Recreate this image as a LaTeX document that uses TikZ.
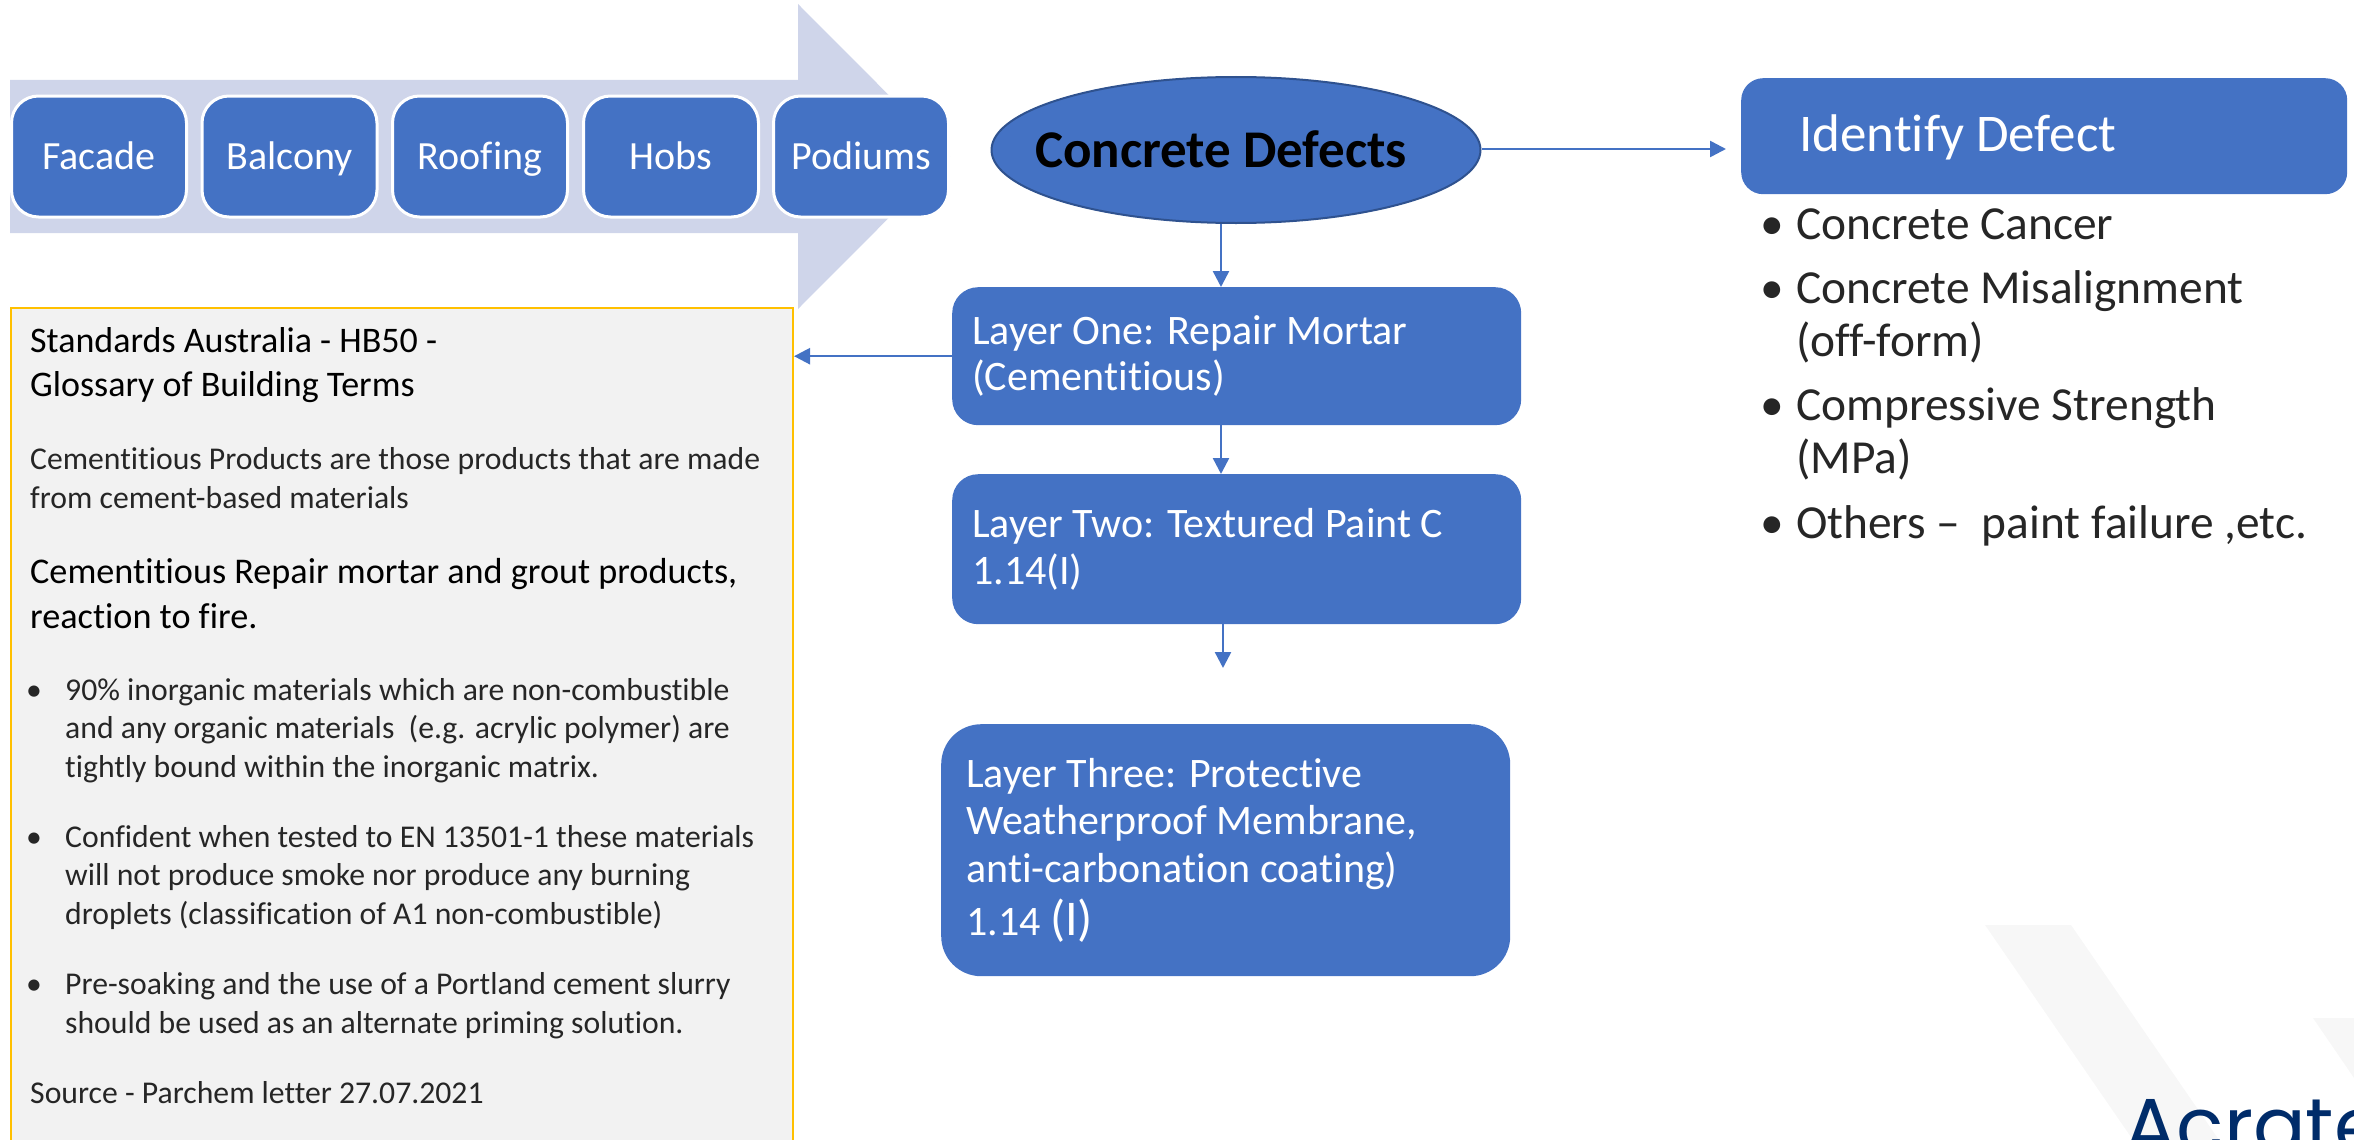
\documentclass[tikz,border=0pt]{standalone}
\usepackage{fontspec}
\setmainfont[Ligatures={NoCommon}]{Carlito}
\newfontfamily\logofont{Poppins}
\usetikzlibrary{arrows.meta,shapes.geometric,calc}
\definecolor{blueA}{HTML}{4472C4}
\definecolor{blueB}{HTML}{2F528F}
\definecolor{bandblue}{HTML}{CFD5EA}
\definecolor{panelgrey}{HTML}{F2F2F2}
\definecolor{panelgold}{HTML}{FFC000}
\definecolor{wmgrey}{HTML}{F7F7F7}
\definecolor{logonavy}{HTML}{002C6A}
\newcommand{\fs}[2]{\fontsize{#1}{#2}\selectfont}
\newcommand{\blk}[1]{\begin{tabular}[t]{@{}l@{}}#1\end{tabular}}
\newcommand{\bul}[3]{\begin{tabular}[t]{@{}p{#1pt}@{}l@{}}#2\end{tabular}}
\tikzset{
  topbox/.style={draw=white,line width=3pt,fill=blueA,rounded corners=27pt,minimum width=175pt,minimum height=121pt,inner sep=0pt,text=white,font=\fs{40}{46},text height=35pt,text depth=10pt},
  bluebox/.style={fill=blueA,inner sep=0pt,text=white,anchor=north west},
  txt/.style={anchor=base west,inner sep=0pt,text=black},
  ltxt/.style={anchor=base west,inner sep=0pt,text=black!85},
  wtxt/.style={anchor=base west,inner sep=0pt,text=white},
  conn/.style={draw=blueA,line width=2.5pt,-{Triangle[length=16pt,width=16pt]}},
}
\begin{document}
\begin{tikzpicture}[x=1pt,y=-1pt]
\useasboundingbox (0,0) rectangle (2354,1140);
% watermark
\fill[wmgrey] (1985,925) -- (2071,925) -- (2219,1140) -- (2133,1140) -- cycle;
\fill[wmgrey] (2313,1018) -- (2354,1018) -- (2354,1078) -- cycle;
\node[inner sep=0pt,anchor=base west,text=logonavy,font=\logofont\fs{78}{90}] (logo) at (2124,1153) {Acrate};
% chevron band
\fill[bandblue] (10,80) -- (798,80) -- (798,4) -- (950,156.5) -- (798,309) -- (798,233) -- (10,233) -- cycle;
\node[topbox] (facade) at (99,156.5) {Facade};
\node[topbox] (balcony) at (289.5,156.5) {Balcony};
\node[topbox] (roofing) at (480,156.5) {Roofing};
\node[topbox] (hobs) at (671,156.5) {Hobs};
\node[topbox] (podiums) at (861,156.5) {Podiums};
% ellipse
\node[ellipse,draw=blueB,line width=2pt,fill=blueA,minimum width=489pt,minimum height=146pt,inner sep=0pt] (defects) at (1236,150) {};
\node[txt,font=\fs{53}{60}\bfseries] (defectst) at (1035,167) {Concrete Defects};
% layers
\node[bluebox,rounded corners=26pt,minimum width=569pt,minimum height=138pt] (one) at (952,287) {};
\node[bluebox,rounded corners=26pt,minimum width=569pt,minimum height=150pt] (two) at (952,474) {};
\node[bluebox,rounded corners=40pt,minimum width=569pt,minimum height=252pt] (three) at (941,724) {};
\node[bluebox,rounded corners=22pt,minimum width=606pt,minimum height=116pt] (identify) at (1741,78) {};
\node[wtxt,font=\fs{42}{46}] (onet) at (972,344) {\blk{Layer One: Repair Mortar\\(Cementitious)}};
\node[wtxt,font=\fs{42}{47}] (twot) at (972,537) {\blk{Layer Two: Textured Paint C\\1.14(I)}};
\node[wtxt,font=\fs{42}{47.5}] (threet) at (966,787) {\blk{Layer Three: Protective\\Weatherproof Membrane,\\anti-carbonation coating)\\[2.5pt]1.14 {\fs{50}{47.5}(I)}}};
\node[wtxt,font=\fs{53}{60}] (idt) at (1799,151) {Identify Defect};
% right bullets
\node[ltxt,font=\fs{47.4}{53}] (b1) at (1760,239) {\bul{36}{•&Concrete Cancer}{}};
\node[ltxt,font=\fs{47.4}{53}] (b2) at (1760,303) {\bul{36}{•&Concrete Misalignment\\&(off-form)}{}};
\node[ltxt,font=\fs{47.4}{53}] (b3) at (1760,420) {\bul{36}{•&Compressive Strength\\&(MPa)}{}};
\node[ltxt,font=\fs{47.4}{53}] (b4) at (1760,538) {\bul{36}{•&Others --\ \ paint failure ,etc.}{}};
% panel
\node[draw=panelgold,line width=2pt,fill=panelgrey,anchor=north west,minimum width=782pt,minimum height=860pt,inner sep=0pt] (panel) at (10,307) {};
\node[txt,font=\fs{36}{44}] (p1) at (30,352) {\blk{Standards Australia - HB50 -\\Glossary of Building Terms}};
\node[ltxt,font=\fs{31.7}{39}] (p2) at (30,469) {\blk{Cementitious Products are those products that are made\\from cement-based materials}};
\node[txt,font=\fs{36.2}{45}] (p3) at (30,583) {\blk{Cementitious Repair mortar and grout products,\\reaction to fire.}};
\node[ltxt,font=\fs{31.7}{38.5}] (p4) at (26,700) {\bul{39}{•&90\% inorganic materials which are non-combustible\\&and any organic materials\ \ (e.g. acrylic polymer) are\\&tightly bound within the inorganic matrix.}{}};
\node[ltxt,font=\fs{31.7}{38.5}] (p5) at (26,847) {\bul{39}{•&Confident when tested to EN 13501-1 these materials\\&will not produce smoke nor produce any burning\\&droplets (classification of A1 non-combustible)}{}};
\node[ltxt,font=\fs{31.7}{39}] (p6) at (26,994) {\bul{39}{•&Pre-soaking and the use of a Portland cement slurry\\&should be used as an alternate priming solution.}{}};
\node[ltxt,font=\fs{31.7}{39}] (p7) at (30,1103) {Source - Parchem letter 27.07.2021};
% connectors
\coordinate (cx) at (1221,0);
\coordinate (cy) at (1223,668);
\coordinate (ce) at (1726,149);
\draw[conn] (defects.south -| cx) -- (one.north -| cx);
\draw[conn] (one.south -| cx) -- (two.north -| cx);
\draw[conn] (two.south -| cy) -- (cy);
\draw[conn] (defects.east |- ce) -- (ce);
\draw[conn] (one.west) -- (panel.east |- one.west);
\end{tikzpicture}
\end{document}
